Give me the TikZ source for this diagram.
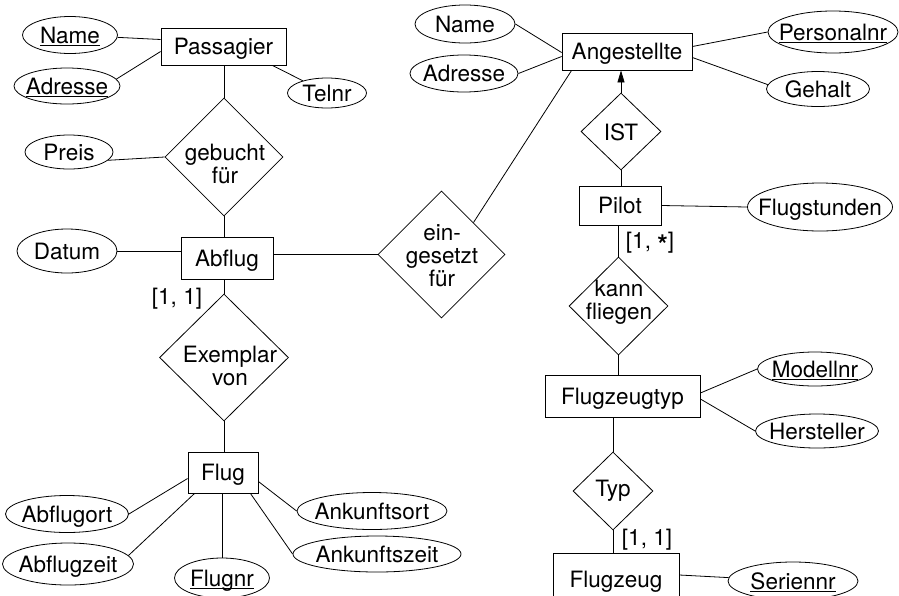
\documentclass[tikz,border=0pt]{standalone}
\usepackage{fontspec}
\setmainfont{TeX Gyre Heros}
\usetikzlibrary{shapes.geometric,arrows.meta,calc}
\newcommand\zw[1]{\hbox to 0pt{\hss#1\hss}}
\newcommand\ulx[1]{\setbox0=\hbox{#1}\rlap{\rule[-3pt]{\wd0}{1pt}}\box0}
\begin{document}
\begin{tikzpicture}[x=1pt,y=-1pt, line width=0.8pt,
  every node/.append style={font=\fontsize{22.5}{23}\selectfont},
  ent/.style={draw, rectangle, inner sep=0pt, text height=16pt, text depth=0pt},
  attr/.style={draw, ellipse, inner sep=0pt, text height=16pt, text depth=0pt},
  rel/.style={draw, diamond, inner sep=0pt, aspect=1},
  txt/.style={inner sep=0pt, align=center},
  card/.style={inner sep=0pt, text height=16pt, text depth=0pt}]
\useasboundingbox (0,0) rectangle (899,595);
\clip (0,0) rectangle (899,595);

% left part
\node[ent, minimum width=125pt, minimum height=37pt] (pas) at (223.5,46.5) {\zw{Passagier}};
\node[attr, minimum width=95pt, minimum height=37pt] (nameA) at (70,35) {\zw{\ulx{Name}}};
\node[attr, minimum width=106pt, minimum height=36pt] (adrA) at (67,86) {\zw{\ulx{Adresse}}};
\node[attr, minimum width=79pt, minimum height=30pt] (tel) at (327,93) {\zw{Telnr}};
\node[rel, minimum width=118pt, minimum height=118pt] (gf) at (224,157) {};
\node[txt] (gf-t) at (225,164) {gebucht\\für};
\node[attr, minimum width=88pt, minimum height=34pt] (preis) at (69,152) {\zw{Preis}};
\node[ent, minimum width=92pt, minimum height=42pt] (abf) at (227,258) {\zw{Abflug}};
\node[attr, minimum width=100pt, minimum height=44pt] (datum) at (67,251) {\zw{Datum}};
\node[card] (cardA) at (177,296) {[1, 1]};
\node[rel, minimum width=129pt, minimum height=127pt] (ex) at (224,357.5) {};
\node[txt] (ex-t) at (230,366) {Exemplar\\von};
\node[ent, minimum width=70pt, minimum height=41pt] (flug) at (223,472.5) {\zw{Flug}};
\node[attr, minimum width=123pt, minimum height=37pt] (aort) at (67,514) {\zw{Abflugort}};
\node[attr, minimum width=131pt, minimum height=42pt] (azt) at (68,564) {\zw{Abflugzeit}};
\node[attr, minimum width=95pt, minimum height=40pt] (fnr) at (222,578) {\zw{\ulx{Flugnr}}};
\node[attr, minimum width=150pt, minimum height=37pt] (kort) at (372,511) {\zw{Ankunftsort}};
\node[attr, minimum width=168pt, minimum height=36pt] (kzt) at (377,554) {\zw{Ankunftszeit}};
\node[rel, minimum width=127pt, minimum height=127pt] (ein) at (441.5,254.5) {};
\node[txt] (ein-t) at (442,256) {ein-\\gesetzt\\für};

% right part
\node[ent, minimum width=130pt, minimum height=37pt] (ang) at (627,51.5) {\zw{Angestellte}};
\node[attr, minimum width=100pt, minimum height=38pt] (nameB) at (465,24) {\zw{Name}};
\node[attr, minimum width=108pt, minimum height=37pt] (adrB) at (464,73.5) {\zw{Adresse}};
\node[attr, minimum width=130pt, minimum height=42pt] (pnr) at (833,32) {\zw{\ulx{Personalnr}}};
\node[attr, minimum width=103pt, minimum height=35pt] (geh) at (818,89) {\zw{Gehalt}};
\node[rel, minimum width=80pt, minimum height=77pt] (ist) at (621,131.5) {};
\node[txt] (ist-t) at (621,132) {IST};
\node[ent, minimum width=82pt, minimum height=39pt] (pil) at (620,205.5) {\zw{Pilot}};
\node[attr, minimum width=145pt, minimum height=48pt] (fst) at (820,207) {\zw{Flugstunden}};
\node[card] (cardB) at (650,240) {[1, \raisebox{-6pt}{\fontsize{27}{27}\selectfont\textbf{*}}]};
\node[rel, minimum width=99pt, minimum height=98pt] (kf) at (618.5,306) {};
\node[txt] (kf-t) at (619,302) {kann\\fliegen};
\node[ent, minimum width=155pt, minimum height=42pt] (fzt) at (622.5,396) {\zw{Flugzeugtyp}};
\node[attr, minimum width=115pt, minimum height=34pt] (mod) at (815,369) {\zw{\ulx{Modellnr}}};
\node[attr, minimum width=123pt, minimum height=34pt] (her) at (817,431) {\zw{Hersteller}};
\node[rel, minimum width=80pt, minimum height=78pt] (typ) at (613,491) {};
\node[txt] (typ-t) at (613,491) {Typ};
\node[card] (cardC) at (647,537) {[1, 1]};
\node[ent, minimum width=126pt, minimum height=52pt] (fz) at (616,579) {\zw{Flugzeug}};
\node[attr, minimum width=130pt, minimum height=38pt] (ser) at (793,581) {\zw{\ulx{Seriennr}}};

% connectors left
\draw (nameA) -- ($(pas.west)+(0,-7)$);
\draw (adrA.8) -- ($(pas.west)+(0,5)$);
\draw ($(pas.south east)+(-14,0)$) -- (tel);
\draw (gf.north |- pas.south) -- (gf.north);
\draw (preis.-12) -- (gf.west);
\draw (gf.south) -- (gf.south |- abf.north);
\draw (datum.east) -- (datum.east -| abf.west);
\draw (ex.north |- abf.south) -- (ex.north);
\draw (ex.south) -- (ex.south |- flug.north);
\draw (ein.west) -- (ein.west -| abf.east);
\draw (ein.north east) -- ($(ang.south west)+(10,0)$);
\draw (aort.east) -- ($(flug.west)+(0,6)$);
\draw (azt.8) -- ($(flug.south west)+(7,0)$);
\draw (fnr.north |- flug.south) -- (fnr.north);
\draw (kzt.west) -- ($(flug.south east)+(-8,0)$);
\draw (kort.west) -- ($(flug.east)+(0,9)$);

% connectors right
\draw (nameB.east) -- ($(ang.west)+(0,1)$);
\draw (adrB.east) -- ($(ang.west)+(0,5)$);
\draw ($(ang.east)+(0,-5)$) -- (pnr.west);
\draw ($(ang.east)+(0,6)$) -- (geh.175);
\draw[-{Triangle[length=12pt,width=7pt]}] (ist.north) -- (ist.north |- ang.south);
\draw (ist.south) -- (ist.south |- pil.north);
\draw (pil.east) -- (fst.west);
\draw (kf.north |- pil.south) -- (kf.north);
\draw (kf.south) -- (kf.south |- fzt.north);
\draw ($(fzt.east)+(0,-3)$) -- (mod.west);
\draw ($(fzt.east)+(0,3)$) -- (her.west);
\draw (typ.north |- fzt.south) -- (typ.north);
\draw (typ.south) -- (typ.south |- fz.north);
\draw ($(fz.east)+(0,-4)$) -- (ser);
\end{tikzpicture}
\end{document}
